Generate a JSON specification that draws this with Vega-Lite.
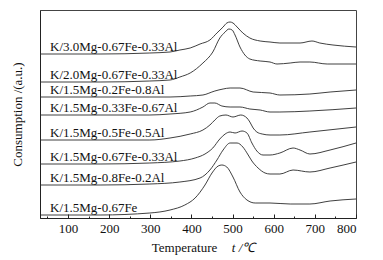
{
  "$schema": "https://vega.github.io/schema/vega-lite/v6.json",
  "width": 316,
  "height": 208,
  "autosize": {"type": "none"},
  "padding": {"left": 40, "top": 10, "right": 27, "bottom": 42},
  "config": {
    "view": {"stroke": "#444", "strokeWidth": 1},
    "font": "Liberation Serif",
    "axis": {"labelFont": "Liberation Serif", "titleFont": "Liberation Serif", "labelColor": "#111", "titleColor": "#111", "domainColor": "#222", "tickColor": "#222", "titleFontWeight": "normal"}
  },
  "data": {"values": [
    {"s":"K/3.0Mg-0.67Fe-0.33Al","t":32,"c":164},{"s":"K/3.0Mg-0.67Fe-0.33Al","t":178,"c":164},{"s":"K/3.0Mg-0.67Fe-0.33Al","t":299,"c":165},{"s":"K/3.0Mg-0.67Fe-0.33Al","t":348,"c":166},{"s":"K/3.0Mg-0.67Fe-0.33Al","t":372,"c":168},{"s":"K/3.0Mg-0.67Fe-0.33Al","t":397,"c":170},{"s":"K/3.0Mg-0.67Fe-0.33Al","t":421,"c":174},{"s":"K/3.0Mg-0.67Fe-0.33Al","t":445,"c":178},{"s":"K/3.0Mg-0.67Fe-0.33Al","t":462,"c":185},{"s":"K/3.0Mg-0.67Fe-0.33Al","t":477,"c":191},{"s":"K/3.0Mg-0.67Fe-0.33Al","t":486,"c":195},{"s":"K/3.0Mg-0.67Fe-0.33Al","t":494,"c":196},{"s":"K/3.0Mg-0.67Fe-0.33Al","t":501,"c":195},{"s":"K/3.0Mg-0.67Fe-0.33Al","t":511,"c":191},{"s":"K/3.0Mg-0.67Fe-0.33Al","t":525,"c":185},{"s":"K/3.0Mg-0.67Fe-0.33Al","t":542,"c":180},{"s":"K/3.0Mg-0.67Fe-0.33Al","t":567,"c":177},{"s":"K/3.0Mg-0.67Fe-0.33Al","t":591,"c":176},{"s":"K/3.0Mg-0.67Fe-0.33Al","t":615,"c":175},{"s":"K/3.0Mg-0.67Fe-0.33Al","t":664,"c":175},{"s":"K/3.0Mg-0.67Fe-0.33Al","t":693,"c":177},{"s":"K/3.0Mg-0.67Fe-0.33Al","t":712,"c":175},{"s":"K/3.0Mg-0.67Fe-0.33Al","t":744,"c":173},{"s":"K/3.0Mg-0.67Fe-0.33Al","t":800,"c":171},

    {"s":"K/2.0Mg-0.67Fe-0.33Al","t":32,"c":136},{"s":"K/2.0Mg-0.67Fe-0.33Al","t":178,"c":136},{"s":"K/2.0Mg-0.67Fe-0.33Al","t":299,"c":137},{"s":"K/2.0Mg-0.67Fe-0.33Al","t":348,"c":138},{"s":"K/2.0Mg-0.67Fe-0.33Al","t":372,"c":141},{"s":"K/2.0Mg-0.67Fe-0.33Al","t":397,"c":145},{"s":"K/2.0Mg-0.67Fe-0.33Al","t":428,"c":155},{"s":"K/2.0Mg-0.67Fe-0.33Al","t":452,"c":166},{"s":"K/2.0Mg-0.67Fe-0.33Al","t":469,"c":180},{"s":"K/2.0Mg-0.67Fe-0.33Al","t":482,"c":186},{"s":"K/2.0Mg-0.67Fe-0.33Al","t":491,"c":189},{"s":"K/2.0Mg-0.67Fe-0.33Al","t":499,"c":188},{"s":"K/2.0Mg-0.67Fe-0.33Al","t":506,"c":183},{"s":"K/2.0Mg-0.67Fe-0.33Al","t":518,"c":171},{"s":"K/2.0Mg-0.67Fe-0.33Al","t":530,"c":163},{"s":"K/2.0Mg-0.67Fe-0.33Al","t":542,"c":159},{"s":"K/2.0Mg-0.67Fe-0.33Al","t":567,"c":157},{"s":"K/2.0Mg-0.67Fe-0.33Al","t":591,"c":156},{"s":"K/2.0Mg-0.67Fe-0.33Al","t":608,"c":154},{"s":"K/2.0Mg-0.67Fe-0.33Al","t":640,"c":155},{"s":"K/2.0Mg-0.67Fe-0.33Al","t":664,"c":156},{"s":"K/2.0Mg-0.67Fe-0.33Al","t":688,"c":156},{"s":"K/2.0Mg-0.67Fe-0.33Al","t":730,"c":154},{"s":"K/2.0Mg-0.67Fe-0.33Al","t":800,"c":154},

    {"s":"K/1.5Mg-0.2Fe-0.8Al","t":32,"c":121},{"s":"K/1.5Mg-0.2Fe-0.8Al","t":178,"c":121},{"s":"K/1.5Mg-0.2Fe-0.8Al","t":299,"c":121},{"s":"K/1.5Mg-0.2Fe-0.8Al","t":348,"c":121},{"s":"K/1.5Mg-0.2Fe-0.8Al","t":397,"c":122},{"s":"K/1.5Mg-0.2Fe-0.8Al","t":428,"c":123},{"s":"K/1.5Mg-0.2Fe-0.8Al","t":457,"c":127},{"s":"K/1.5Mg-0.2Fe-0.8Al","t":477,"c":129},{"s":"K/1.5Mg-0.2Fe-0.8Al","t":494,"c":130},{"s":"K/1.5Mg-0.2Fe-0.8Al","t":518,"c":130},{"s":"K/1.5Mg-0.2Fe-0.8Al","t":550,"c":126},{"s":"K/1.5Mg-0.2Fe-0.8Al","t":591,"c":125},{"s":"K/1.5Mg-0.2Fe-0.8Al","t":615,"c":123},{"s":"K/1.5Mg-0.2Fe-0.8Al","t":688,"c":124},{"s":"K/1.5Mg-0.2Fe-0.8Al","t":737,"c":126},{"s":"K/1.5Mg-0.2Fe-0.8Al","t":800,"c":128},

    {"s":"K/1.5Mg-0.33Fe-0.67Al","t":32,"c":103},{"s":"K/1.5Mg-0.33Fe-0.67Al","t":178,"c":103},{"s":"K/1.5Mg-0.33Fe-0.67Al","t":299,"c":103},{"s":"K/1.5Mg-0.33Fe-0.67Al","t":348,"c":104},{"s":"K/1.5Mg-0.33Fe-0.67Al","t":397,"c":106},{"s":"K/1.5Mg-0.33Fe-0.67Al","t":428,"c":111},{"s":"K/1.5Mg-0.33Fe-0.67Al","t":445,"c":115},{"s":"K/1.5Mg-0.33Fe-0.67Al","t":457,"c":115},{"s":"K/1.5Mg-0.33Fe-0.67Al","t":474,"c":112},{"s":"K/1.5Mg-0.33Fe-0.67Al","t":494,"c":111},{"s":"K/1.5Mg-0.33Fe-0.67Al","t":518,"c":111},{"s":"K/1.5Mg-0.33Fe-0.67Al","t":542,"c":109},{"s":"K/1.5Mg-0.33Fe-0.67Al","t":567,"c":108},{"s":"K/1.5Mg-0.33Fe-0.67Al","t":591,"c":106},{"s":"K/1.5Mg-0.33Fe-0.67Al","t":615,"c":106},{"s":"K/1.5Mg-0.33Fe-0.67Al","t":688,"c":107},{"s":"K/1.5Mg-0.33Fe-0.67Al","t":800,"c":110},

    {"s":"K/1.5Mg-0.5Fe-0.5Al","t":32,"c":78},{"s":"K/1.5Mg-0.5Fe-0.5Al","t":178,"c":78},{"s":"K/1.5Mg-0.5Fe-0.5Al","t":299,"c":78},{"s":"K/1.5Mg-0.5Fe-0.5Al","t":348,"c":80},{"s":"K/1.5Mg-0.5Fe-0.5Al","t":397,"c":84},{"s":"K/1.5Mg-0.5Fe-0.5Al","t":428,"c":88},{"s":"K/1.5Mg-0.5Fe-0.5Al","t":445,"c":93},{"s":"K/1.5Mg-0.5Fe-0.5Al","t":457,"c":98},{"s":"K/1.5Mg-0.5Fe-0.5Al","t":469,"c":102},{"s":"K/1.5Mg-0.5Fe-0.5Al","t":484,"c":103},{"s":"K/1.5Mg-0.5Fe-0.5Al","t":501,"c":101},{"s":"K/1.5Mg-0.5Fe-0.5Al","t":520,"c":103},{"s":"K/1.5Mg-0.5Fe-0.5Al","t":535,"c":100},{"s":"K/1.5Mg-0.5Fe-0.5Al","t":542,"c":96},{"s":"K/1.5Mg-0.5Fe-0.5Al","t":550,"c":90},{"s":"K/1.5Mg-0.5Fe-0.5Al","t":559,"c":86},{"s":"K/1.5Mg-0.5Fe-0.5Al","t":572,"c":84},{"s":"K/1.5Mg-0.5Fe-0.5Al","t":591,"c":83},{"s":"K/1.5Mg-0.5Fe-0.5Al","t":615,"c":83},{"s":"K/1.5Mg-0.5Fe-0.5Al","t":688,"c":86},{"s":"K/1.5Mg-0.5Fe-0.5Al","t":800,"c":91},

    {"s":"K/1.5Mg-0.67Fe-0.33Al","t":32,"c":54},{"s":"K/1.5Mg-0.67Fe-0.33Al","t":178,"c":54},{"s":"K/1.5Mg-0.67Fe-0.33Al","t":299,"c":55},{"s":"K/1.5Mg-0.67Fe-0.33Al","t":372,"c":57},{"s":"K/1.5Mg-0.67Fe-0.33Al","t":409,"c":60},{"s":"K/1.5Mg-0.67Fe-0.33Al","t":433,"c":64},{"s":"K/1.5Mg-0.67Fe-0.33Al","t":452,"c":70},{"s":"K/1.5Mg-0.67Fe-0.33Al","t":469,"c":79},{"s":"K/1.5Mg-0.67Fe-0.33Al","t":482,"c":84},{"s":"K/1.5Mg-0.67Fe-0.33Al","t":494,"c":86},{"s":"K/1.5Mg-0.67Fe-0.33Al","t":506,"c":85},{"s":"K/1.5Mg-0.67Fe-0.33Al","t":523,"c":87},{"s":"K/1.5Mg-0.67Fe-0.33Al","t":535,"c":85},{"s":"K/1.5Mg-0.67Fe-0.33Al","t":547,"c":75},{"s":"K/1.5Mg-0.67Fe-0.33Al","t":559,"c":67},{"s":"K/1.5Mg-0.67Fe-0.33Al","t":574,"c":63},{"s":"K/1.5Mg-0.67Fe-0.33Al","t":591,"c":63},{"s":"K/1.5Mg-0.67Fe-0.33Al","t":615,"c":65},{"s":"K/1.5Mg-0.67Fe-0.33Al","t":647,"c":70},{"s":"K/1.5Mg-0.67Fe-0.33Al","t":664,"c":68},{"s":"K/1.5Mg-0.67Fe-0.33Al","t":688,"c":64},{"s":"K/1.5Mg-0.67Fe-0.33Al","t":737,"c":68},{"s":"K/1.5Mg-0.67Fe-0.33Al","t":800,"c":75},

    {"s":"K/1.5Mg-0.8Fe-0.2Al","t":32,"c":33},{"s":"K/1.5Mg-0.8Fe-0.2Al","t":178,"c":33},{"s":"K/1.5Mg-0.8Fe-0.2Al","t":299,"c":34},{"s":"K/1.5Mg-0.8Fe-0.2Al","t":372,"c":36},{"s":"K/1.5Mg-0.8Fe-0.2Al","t":421,"c":40},{"s":"K/1.5Mg-0.8Fe-0.2Al","t":445,"c":48},{"s":"K/1.5Mg-0.8Fe-0.2Al","t":462,"c":58},{"s":"K/1.5Mg-0.8Fe-0.2Al","t":477,"c":68},{"s":"K/1.5Mg-0.8Fe-0.2Al","t":494,"c":75},{"s":"K/1.5Mg-0.8Fe-0.2Al","t":511,"c":75},{"s":"K/1.5Mg-0.8Fe-0.2Al","t":525,"c":71},{"s":"K/1.5Mg-0.8Fe-0.2Al","t":538,"c":63},{"s":"K/1.5Mg-0.8Fe-0.2Al","t":547,"c":57},{"s":"K/1.5Mg-0.8Fe-0.2Al","t":562,"c":50},{"s":"K/1.5Mg-0.8Fe-0.2Al","t":579,"c":45},{"s":"K/1.5Mg-0.8Fe-0.2Al","t":591,"c":44},{"s":"K/1.5Mg-0.8Fe-0.2Al","t":615,"c":44},{"s":"K/1.5Mg-0.8Fe-0.2Al","t":647,"c":48},{"s":"K/1.5Mg-0.8Fe-0.2Al","t":688,"c":46},{"s":"K/1.5Mg-0.8Fe-0.2Al","t":737,"c":50},{"s":"K/1.5Mg-0.8Fe-0.2Al","t":800,"c":56},

    {"s":"K/1.5Mg-0.67Fe","t":32,"c":3},{"s":"K/1.5Mg-0.67Fe","t":178,"c":3},{"s":"K/1.5Mg-0.67Fe","t":299,"c":5},{"s":"K/1.5Mg-0.67Fe","t":348,"c":8},{"s":"K/1.5Mg-0.67Fe","t":384,"c":13},{"s":"K/1.5Mg-0.67Fe","t":409,"c":20},{"s":"K/1.5Mg-0.67Fe","t":433,"c":33},{"s":"K/1.5Mg-0.67Fe","t":450,"c":45},{"s":"K/1.5Mg-0.67Fe","t":465,"c":52},{"s":"K/1.5Mg-0.67Fe","t":474,"c":53},{"s":"K/1.5Mg-0.67Fe","t":486,"c":51},{"s":"K/1.5Mg-0.67Fe","t":501,"c":41},{"s":"K/1.5Mg-0.67Fe","t":518,"c":26},{"s":"K/1.5Mg-0.67Fe","t":535,"c":18},{"s":"K/1.5Mg-0.67Fe","t":555,"c":15},{"s":"K/1.5Mg-0.67Fe","t":591,"c":15},{"s":"K/1.5Mg-0.67Fe","t":640,"c":14},{"s":"K/1.5Mg-0.67Fe","t":688,"c":14},{"s":"K/1.5Mg-0.67Fe","t":737,"c":17},{"s":"K/1.5Mg-0.67Fe","t":800,"c":19}
  ]},
  "resolve": {"axis": {"x": "independent"}},
  "layer": [
    {
      "mark": {"type": "line", "interpolate": "monotone", "color": "#2a2a2a", "strokeWidth": 0.9, "clip": true},
      "encoding": {
        "x": {"field": "t", "type": "quantitative", "scale": {"domain": [32, 800], "nice": false, "zero": false},
          "axis": {"orient": "bottom", "values": [100, 200, 300, 400, 500, 600, 700, 800], "tickSize": -4, "labelPadding": 8, "labelFontSize": 13, "grid": false,
            "title": "Temperature", "titleFontSize": 13, "titleX": 144, "titleY": 29, "titleBaseline": "middle", "titleAnchor": "middle"}},
        "y": {"field": "c", "type": "quantitative", "scale": {"domain": [0, 208], "nice": false, "zero": false},
          "axis": {"labels": false, "ticks": false, "grid": false, "title": "Consumption /(a.u.)", "titleFontSize": 13, "titlePadding": 16}},
        "detail": {"field": "s"}
      }
    },
    {
      "transform": [{"filter": "datum.t == 32"}],
      "mark": {"type": "text", "align": "left", "baseline": "middle", "dx": 10, "dy": -7, "fontSize": 13, "font": "Liberation Serif", "color": "#111"},
      "encoding": {
        "x": {"field": "t", "type": "quantitative",
          "axis": {"orient": "bottom", "values": [50, 150, 250, 350, 450, 550, 650, 750], "tickSize": -2, "labels": false, "domain": false, "grid": false,
            "title": "t /℃", "titleFontStyle": "italic", "titleFontSize": 13, "titleX": 203, "titleY": 29, "titleBaseline": "middle", "titleAnchor": "middle"}},
        "y": {"field": "c", "type": "quantitative"},
        "text": {"field": "s"}
      }
    }
  ]
}
